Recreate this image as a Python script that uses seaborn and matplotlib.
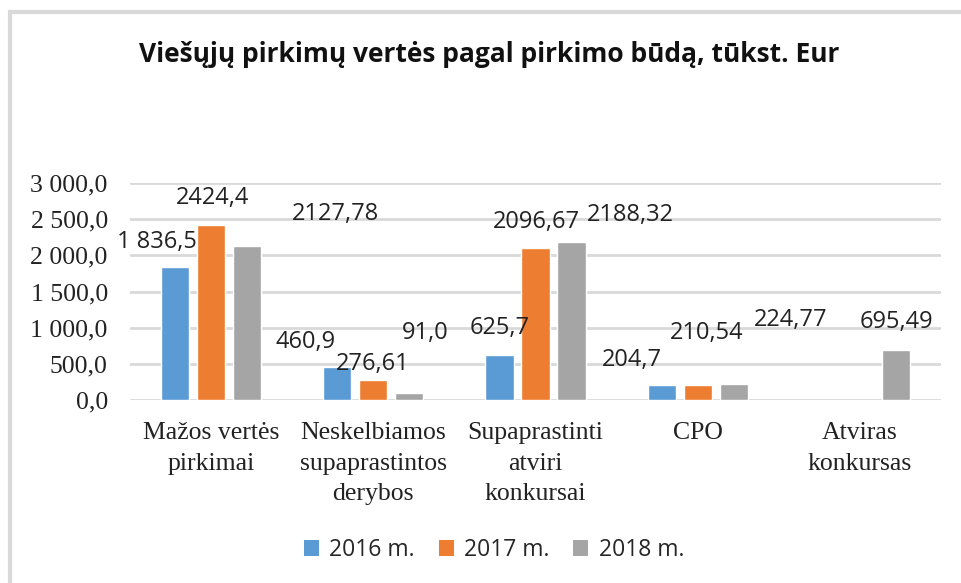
import numpy as np
import pandas as pd
import matplotlib
matplotlib.use("Agg")
import matplotlib.pyplot as plt
from matplotlib.patches import Rectangle, Patch
from matplotlib.ticker import FuncFormatter, MultipleLocator
import seaborn as sns

# ---- data ----
categories = ["Mažos vertės\npirkimai", "Neskelbiamos\nsupaprastintos\nderybos",
              "Supaprastinti\natviri\nkonkursai", "CPO", "Atviras\nkonkursas"]
series = ["2016 m.", "2017 m.", "2018 m."]
v2016 = [1836.5, 460.9, 625.7, 204.7, np.nan]
v2017 = [2424.4, 276.61, 2096.67, 210.54, np.nan]
v2018 = [2127.78, 91.0, 2188.32, 224.77, 695.49]
dec2016 = [1, 1, 1, 1, 1]
dec2017 = [1, 2, 2, 2, 2]
dec2018 = [2, 1, 2, 2, 2]
colors = ["#5B9BD5", "#ED7D31", "#A5A5A5"]

# label offsets in pixels (dx, dy) from bar top centre
offsets = {
    0: [(-18, 25), (-32, 25), (0, 27), (-30, 25), (0, 28)],
    1: [(1, 27), (-1, 16), (1, 26), (9, 52), (0, 28)],
    2: [(88, 32), (16, 60), (59, 27), (57, 64), (0, 28)],
}

rows = []
for s, vals in zip(series, [v2016, v2017, v2018]):
    for c, v in zip(categories, vals):
        rows.append({"cat": c, "year": s, "value": v})
df = pd.DataFrame(rows).dropna()
decimals = [dec2016, dec2017, dec2018]
values = [v2016, v2017, v2018]

sns.set_theme(style="white")
plt.rcParams["font.family"] = ["Open Sans", "DejaVu Sans"]

fig = plt.figure(figsize=(9.62, 5.83), dpi=100)
ax = fig.add_axes([130/962, 1-400/583, (941-130)/962, (400-183)/583])

sns.barplot(data=df, x="cat", y="value", hue="year", order=categories,
            hue_order=series, palette=colors, width=0.667, gap=0.22,
            saturation=1, ax=ax, legend=False, errorbar=None)

ax.set_ylim(0, 3000)
ax.set_xlim(-0.5, 4.5)
ax.yaxis.set_major_locator(MultipleLocator(500))

def fmt(v, d, sep=" "):
    s = f"{v:,.{d}f}"
    return s.replace(",", sep).replace(".", ",")

ax.yaxis.set_major_formatter(FuncFormatter(lambda v, p: fmt(v, 1)))
ax.grid(axis="y", color="#D9D9D9", linewidth=2)
ax.set_axisbelow(True)
for sp in ax.spines.values():
    sp.set_visible(False)
ax.set_xlabel("")
ax.set_ylabel("")
ax.tick_params(axis="both", length=0)
ax.tick_params(axis="y", pad=16)
ax.tick_params(axis="x", pad=16)
for lab in ax.get_yticklabels():
    lab.set_fontfamily("Liberation Serif")
    lab.set_fontsize(18.5)
    lab.set_color("#222222")
for lab in ax.get_xticklabels():
    lab.set_fontfamily("Liberation Serif")
    lab.set_fontsize(18.5)
    lab.set_color("#222222")
    lab.set_linespacing(1.5)

# data labels
for si, cont in enumerate(ax.containers):
    for bar in cont:
        h = bar.get_height()
        if np.isnan(h) or h == 0:
            continue
        xc = bar.get_x() + bar.get_width() / 2
        ci = int(round(xc))
        d = decimals[si][ci]
        txt = fmt(values[si][ci], d, " " if si == 0 else "")
        dx, dy = offsets[si][ci]
        ax.annotate(txt, (xc, h), xytext=(dx, dy), textcoords="offset pixels",
                    ha="center", va="center", fontsize=17, color="#222222",
                    fontfamily="Open Sans")

fig.text(489/962, 1-55/583, "Viešųjų pirkimų vertės pagal pirkimo būdą, tūkst. Eur",
         ha="center", va="center", fontsize=19, fontweight="bold",
         color="#111111", fontfamily="Open Sans")

handles = [Patch(facecolor=c, edgecolor="none") for c in colors]
fig.legend(handles, series, loc="center", bbox_to_anchor=(494/962, 1-550/583),
           ncol=3, frameon=False, handlelength=0.65, handleheight=0.65,
           handletextpad=0.45, columnspacing=1.05,
           prop={"family": "Open Sans", "size": 16.5})

fig.patches.append(Rectangle((9.5/962, -0.1), 1.2, 1 - 12.5/583 + 0.1,
                             transform=fig.transFigure, fill=False,
                             edgecolor="#D9D9D9", linewidth=3, zorder=0))

fig.savefig("out.png", dpi=100, facecolor="white")
